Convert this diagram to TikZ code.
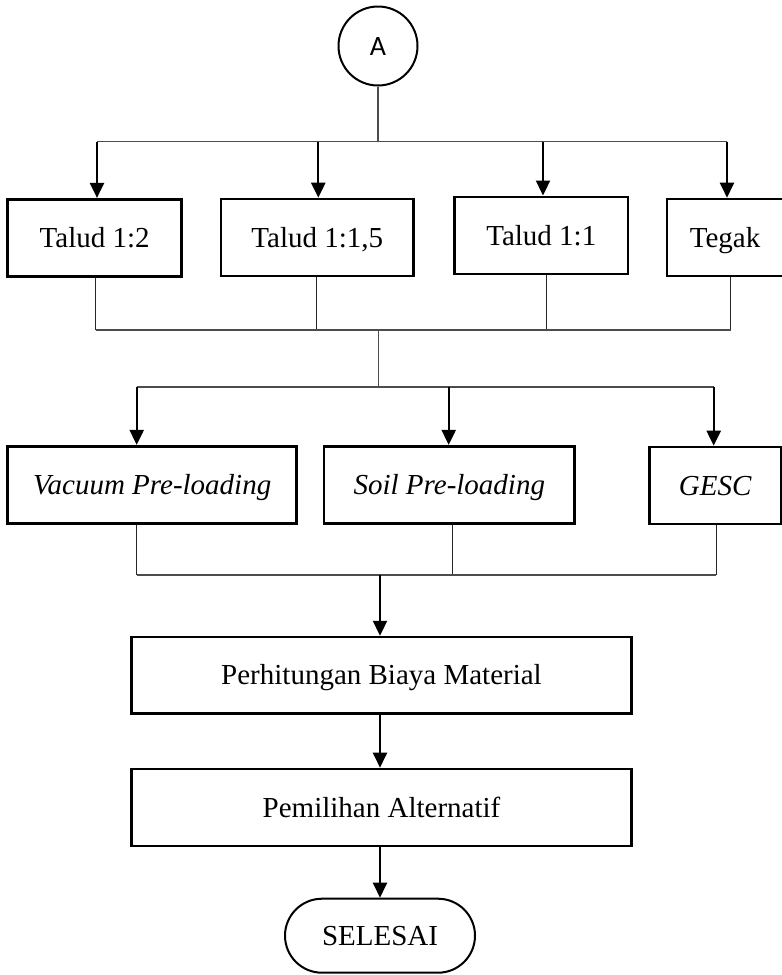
\documentclass[tikz,border=0pt]{standalone}
\usepackage{fontspec}
\setmainfont{Liberation Serif}
\newfontfamily\carlitofont{Carlito}
\usetikzlibrary{arrows.meta,shapes.misc}
\tikzset{
  box/.style={draw=black, line width=2.6pt, inner sep=0pt, minimum height=77pt,
              font=\fontsize{29}{34}\selectfont, text height=19.5pt, text depth=0pt},
  conn/.style={draw=black!70, line width=1.3pt},
  thin/.style={draw=black!85, line width=1pt},
  arr/.style={draw=black, line width=2.3pt, -{Triangle[width=14pt,length=15pt]}},
}
\begin{document}
\begin{tikzpicture}[x=1pt,y=-1pt]
\useasboundingbox (0,0) rectangle (782,975);
% connector start
\node[draw=black, line width=2pt, circle, minimum size=79pt, inner sep=0pt,
      text height=18pt, text depth=0pt,
      font=\carlitofont\fontsize{28}{30}\selectfont] (A) at (378,46) {A};
% row 1
\node[box, minimum width=174pt] (t1) at (94.7,237.7) {Talud 1:2};
\node[box, minimum width=192.7pt] (t2) at (317.3,237.5) {Talud 1:1,5};
\node[box, minimum width=173.3pt] (t3) at (541.3,235.3) {Talud 1:1};
\node[box, minimum width=116pt] (t4) at (725,237.5) {Tegak};
% row 2
\node[box, minimum width=289pt] (v1) at (152.2,484.7) {\itshape Vacuum Pre-loading};
\node[box, minimum width=250.7pt] (v2) at (449.3,484.7) {\itshape Soil Pre-loading};
\node[box, minimum width=131.7pt] (v3) at (715.2,485.5) {\itshape GESC};
% lower steps
\node[box, minimum width=499.6pt, minimum height=76.3pt] (p1) at (381.5,675.2) {Perhitungan Biaya Material};
\node[box, minimum width=499.6pt] (p2) at (381.5,807.5) {Pemilihan Alternatif};
\node[draw=black, line width=2pt, rounded rectangle, minimum width=190pt, minimum height=74pt,
      inner sep=0pt, text height=19.5pt, text depth=0pt,
      font=\fontsize{29}{34}\selectfont] (end) at (380,935.7) {SELESAI};

% bus 1
\coordinate (b0) at (378,141.7);
\coordinate (a1) at (97,141.7);
\coordinate (a2) at (318.3,141.7);
\coordinate (a3) at (543,141.7);
\coordinate (a4) at (727,141.7);
\draw[conn] (A) -- (b0);
\draw[conn] (a1) -- (a4);
\draw[arr] (a1) -- (a1 |- t1.north);
\draw[arr] (a2) -- (a2 |- t2.north);
\draw[arr] (a3) -- (a3 |- t3.north);
\draw[arr] (a4) -- (a4 |- t4.north);

% bus 2
\coordinate (c1) at (95.7,330);
\coordinate (c2) at (316,330);
\coordinate (c3) at (546.7,330);
\coordinate (c4) at (730.7,330);
\coordinate (c0) at (378.3,330);
\draw[thin] (c1 |- t1.south) -- (c1);
\draw[thin] (c2 |- t2.south) -- (c2);
\draw[thin] (c3 |- t3.south) -- (c3);
\draw[thin] (c4 |- t4.south) -- (c4);
\draw[conn] (c1) -- (c4);

% bus 3
\coordinate (d0) at (378.3,387);
\coordinate (d1) at (136.7,387);
\coordinate (d2) at (448.7,387);
\coordinate (d3) at (713.7,387);
\draw[conn] (c0) -- (d0);
\draw[conn] (d1) -- (d3);
\draw[arr] (d1) -- (d1 |- v1.north);
\draw[arr] (d2) -- (d2 |- v2.north);
\draw[arr] (d3) -- (d3 |- v3.north);

% bus 4
\coordinate (e1) at (136.7,575);
\coordinate (e2) at (452.7,575);
\coordinate (e3) at (716.3,575);
\coordinate (f) at (380,575);
\draw[thin] (e1 |- v1.south) -- (e1);
\draw[thin] (e2 |- v2.south) -- (e2);
\draw[thin] (e3 |- v3.south) -- (e3);
\draw[conn] (e1) -- (e3);
\draw[arr] (f) -- (f |- p1.north);

% lower arrows
\draw[arr] (p1.south -| f) -- (p2.north -| f);
\draw[arr] (p2.south -| f) -- (end.north -| f);
\end{tikzpicture}
\end{document}
